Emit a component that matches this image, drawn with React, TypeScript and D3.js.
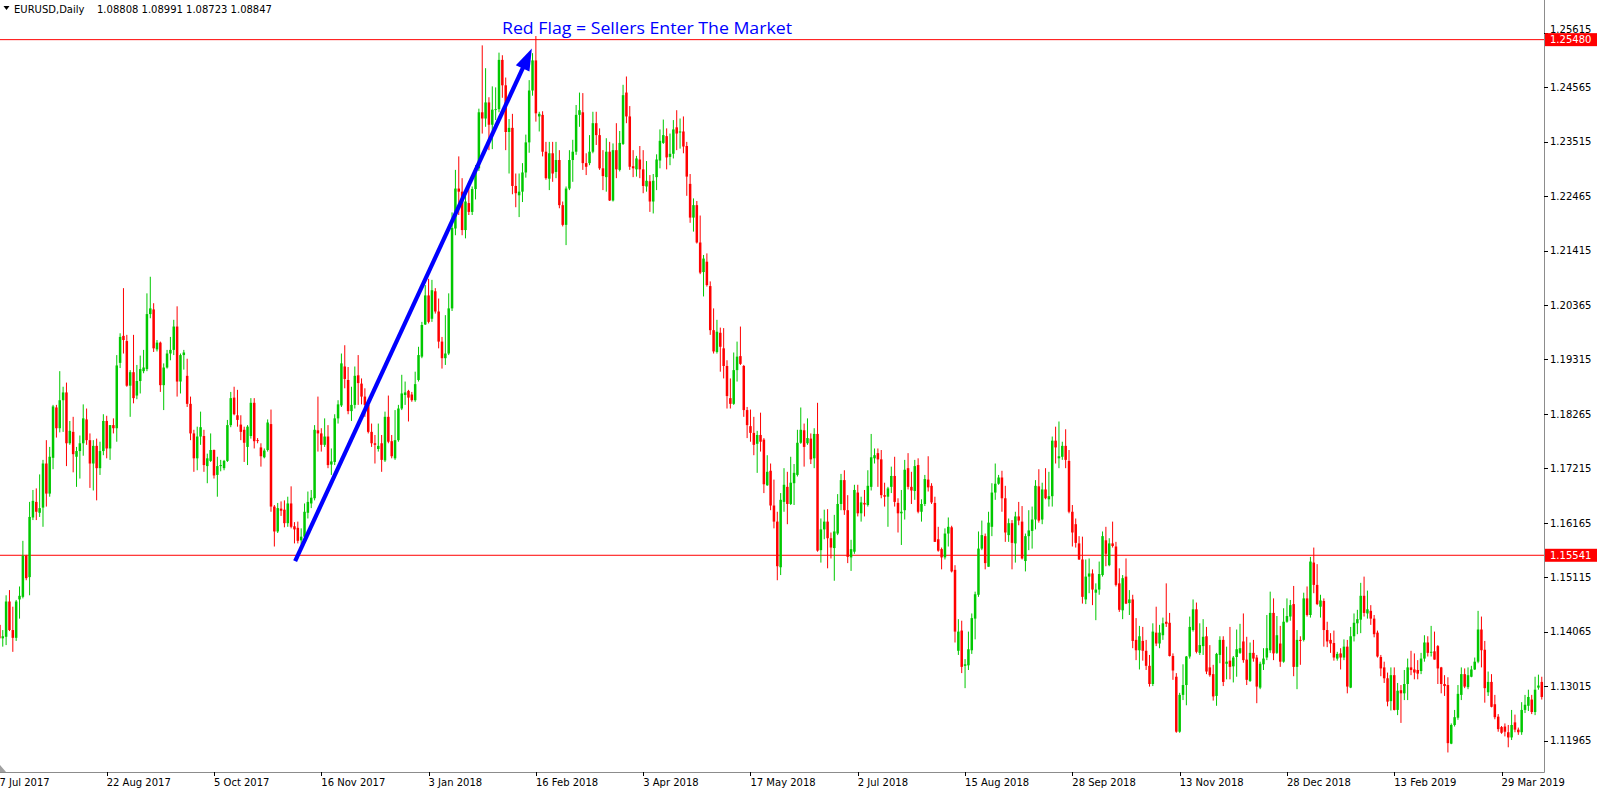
import React from "react";
import * as d3 from "d3";

// ---------- data (prices in 1e-4 units, i.e. pips) ----------
const PIP = 1e-4;

const opens = [
11420,11394,11397,11465,11410,11395,11469,11474,11553,11512,
11627,11657,11636,11646,11731,11673,11742,11839,11799,11853,
11868,11770,11792,11744,11755,11770,11816,11776,11731,11765,
11722,11755,11813,11760,11805,11799,11925,11977,11967,11881,
11907,11862,11890,11909,11913,12019,12028,11951,11964,11882,
11916,11943,11950,11995,11889,11940,11900,11846,11789,11741,
11783,11784,11726,11736,11757,11709,11726,11722,11736,11805,
11858,11824,11806,11796,11763,11784,11848,11776,11762,11743,
11757,11807,11648,11600,11644,11642,11616,11654,11610,11607,
11583,11590,11636,11654,11664,11795,11789,11767,11783,11729,
11734,11818,11843,11918,11892,11832,11844,11901,11885,11860,
11844,11792,11770,11759,11770,11737,11821,11774,11741,11776,
11837,11863,11871,11864,11853,11892,11937,11999,12055,12010,
12063,12024,11966,11934,11943,12030,12184,12261,12255,12181,
12233,12216,12260,12300,12408,12396,12427,12384,12413,12414,
12509,12460,12370,12378,12266,12248,12255,12292,12350,12450,
12508,12400,12403,12332,12280,12329,12293,12316,12229,12191,
12261,12316,12332,12403,12408,12310,12310,12332,12387,12364,
12300,12283,12332,12238,12335,12297,12347,12446,12400,12304,
12298,12317,12298,12265,12275,12236,12283,12315,12349,12362,
12322,12328,12379,12369,12371,12343,12270,12205,12229,12157,
12100,12120,12073,11988,11946,11983,11953,11919,11857,11846,
11911,11938,11919,11834,11803,11790,11769,11786,11777,11689,
11717,11650,11619,11531,11657,11686,11653,11693,11709,11771,
11795,11770,11779,11741,11788,11564,11604,11619,11587,11568,
11596,11653,11699,11641,11550,11561,11675,11635,11655,11651,
11686,11741,11751,11739,11670,11667,11686,11707,11655,11635,
11641,11722,11686,11678,11728,11638,11653,11700,11688,11655,
11585,11566,11550,11596,11608,11526,11370,11409,11341,11342,
11371,11432,11478,11567,11591,11532,11609,11675,11692,11704,
11664,11593,11616,11577,11629,11619,11543,11591,11601,11623,
11687,11623,11681,11662,11668,11775,11741,11744,11765,11736,
11638,11614,11577,11546,11469,11513,11519,11482,11488,11516,
11583,11535,11577,11571,11500,11448,11513,11462,11469,11391,
11371,11389,11370,11341,11306,11405,11384,11400,11426,11424,
11360,11320,11214,11285,11304,11359,11410,11450,11366,11379,
11398,11338,11325,11283,11362,11391,11345,11351,11340,11358,
11366,11388,11353,11312,11366,11357,11299,11344,11357,11371,
11443,11366,11384,11349,11426,11436,11460,11339,11391,11391,
11471,11439,11540,11497,11455,11466,11410,11391,11385,11355,
11365,11357,11378,11299,11398,11423,11430,11476,11442,11447,
11432,11405,11358,11338,11317,11273,11323,11256,11294,11288,
11306,11338,11334,11333,11331,11355,11386,11367,11369,11379,
11338,11306,11304,11191,11227,11241,11285,11325,11300,11320,
11334,11349,11411,11372,11290,11310,11267,11243,11223,11224,
11213,11203,11232,11218,11213,11256,11264,11276,11252,11299,
11310];

const highs = [
11426,11410,11477,11487,11455,11468,11494,11582,11555,11657,
11680,11683,11710,11738,11776,11763,11844,11844,11909,11879,
11887,11813,11821,11763,11785,11845,11837,11789,11776,11779,
11773,11826,11823,11805,11818,11940,11982,12069,11979,11911,
11979,11921,11939,11950,12059,12091,12040,11969,11966,11924,
11950,11975,12008,12034,11943,11950,11933,11860,11796,11802,
11831,11796,11750,11789,11758,11744,11738,11738,11815,11869,
11879,11873,11824,11802,11805,11857,11857,11780,11770,11760,
11816,11835,11651,11655,11658,11660,11667,11687,11618,11619,
11606,11654,11677,11680,11805,11860,11799,11818,11805,11760,
11826,11853,11943,11959,11917,11879,11918,11940,11895,11876,
11847,11808,11786,11808,11786,11831,11862,11786,11834,11844,
11902,11889,11873,11869,11908,11956,12004,12075,12087,12085,
12069,12049,11975,12017,12059,12215,12297,12323,12281,12261,
12274,12265,12306,12415,12537,12493,12437,12458,12456,12523,
12518,12475,12395,12405,12290,12290,12310,12365,12470,12522,
12555,12409,12410,12351,12351,12351,12351,12335,12236,12265,
12335,12355,12422,12446,12445,12329,12364,12409,12409,12377,
12335,12358,12351,12348,12387,12372,12461,12477,12420,12335,
12324,12343,12335,12314,12287,12289,12327,12375,12394,12377,
12367,12393,12412,12396,12400,12351,12289,12242,12237,12209,
12133,12136,12082,12030,12008,11993,11992,11930,11895,11945,
11966,11995,11921,11840,11835,11821,11794,11829,11780,11747,
11731,11700,11638,11674,11722,11715,11744,11730,11796,11839,
11808,11818,11789,11799,11848,11625,11642,11643,11598,11632,
11672,11711,11718,11670,11584,11690,11690,11667,11680,11718,
11788,11760,11760,11757,11694,11686,11725,11744,11664,11680,
11738,11751,11715,11738,11741,11662,11709,11745,11693,11667,
11609,11569,11606,11627,11611,11535,11431,11428,11354,11407,
11442,11484,11600,11621,11596,11638,11693,11731,11709,11717,
11688,11625,11622,11638,11657,11649,11596,11641,11648,11699,
11720,11694,11722,11715,11783,11802,11812,11773,11797,11757,
11651,11625,11591,11590,11546,11548,11527,11500,11542,11600,
11609,11587,11619,11580,11529,11516,11548,11487,11478,11433,
11418,11416,11391,11362,11423,11455,11420,11434,11500,11443,
11365,11327,11289,11344,11360,11436,11469,11463,11423,11431,
11416,11381,11343,11366,11398,11398,11378,11416,11360,11411,
11422,11442,11397,11386,11391,11362,11349,11375,11439,11484,
11471,11437,11418,11452,11471,11468,11495,11410,11398,11482,
11494,11551,11569,11537,11478,11471,11426,11404,11409,11368,
11375,11392,11391,11416,11442,11449,11501,11513,11486,11458,
11439,11409,11362,11349,11328,11338,11338,11308,11304,11333,
11355,11370,11365,11352,11366,11400,11398,11418,11407,11381,
11339,11323,11319,11230,11256,11304,11338,11336,11338,11341,
11357,11447,11436,11389,11330,11325,11285,11248,11225,11230,
11227,11256,11247,11222,11271,11285,11295,11285,11320,11324,
11320];

const lows = [
11391,11378,11381,11408,11368,11389,11432,11471,11506,11477,
11622,11622,11628,11609,11648,11667,11720,11781,11791,11792,
11726,11767,11714,11686,11702,11746,11767,11684,11679,11660,
11709,11747,11741,11738,11789,11773,11915,11943,11879,11821,
11847,11855,11866,11905,11909,12011,11946,11947,11869,11834,
11914,11930,11940,11860,11866,11912,11840,11776,11715,11718,
11767,11715,11693,11734,11702,11667,11716,11718,11734,11801,
11824,11802,11776,11734,11728,11779,11760,11770,11725,11741,
11754,11638,11571,11597,11630,11608,11609,11606,11577,11577,
11575,11584,11625,11645,11660,11754,11754,11763,11722,11709,
11728,11808,11840,11876,11826,11813,11837,11844,11845,11821,
11789,11763,11731,11754,11715,11734,11770,11741,11738,11773,
11834,11844,11812,11850,11850,11889,11934,11998,12001,12004,
12020,11953,11914,11921,11940,12025,12171,12210,12171,12165,
12210,12210,12240,12295,12367,12380,12335,12337,12393,12408,
12436,12335,12290,12250,12225,12206,12235,12282,12330,12440,
12390,12371,12323,12278,12258,12274,12281,12223,12188,12152,
12258,12274,12326,12380,12297,12287,12306,12329,12345,12297,
12258,12255,12237,12236,12281,12294,12345,12387,12297,12283,
12284,12281,12252,12255,12216,12213,12258,12300,12347,12298,
12306,12319,12335,12338,12329,12247,12195,12178,12155,12096,
12053,12072,11979,11943,11943,11908,11895,11837,11837,11844,
11889,11921,11821,11780,11773,11747,11713,11754,11674,11688,
11641,11606,11506,11516,11638,11614,11651,11651,11706,11769,
11725,11767,11730,11722,11561,11540,11585,11529,11548,11505,
11593,11641,11632,11539,11524,11557,11629,11619,11629,11648,
11679,11731,11686,11664,11648,11609,11674,11648,11598,11574,
11623,11681,11653,11661,11635,11619,11649,11677,11653,11580,
11561,11527,11546,11571,11521,11386,11362,11327,11298,11333,
11364,11392,11474,11564,11527,11532,11591,11661,11690,11638,
11580,11580,11527,11540,11612,11546,11523,11564,11567,11604,
11617,11614,11662,11648,11648,11731,11722,11738,11722,11635,
11571,11569,11545,11461,11460,11481,11458,11429,11478,11513,
11533,11533,11569,11494,11445,11431,11460,11439,11375,11352,
11334,11351,11333,11301,11302,11379,11375,11391,11416,11359,
11314,11212,11212,11275,11265,11355,11407,11365,11362,11362,
11325,11320,11274,11264,11346,11302,11315,11315,11309,11320,
11364,11347,11304,11310,11349,11269,11296,11333,11352,11366,
11352,11364,11339,11347,11424,11428,11321,11296,11343,11388,
11436,11434,11481,11458,11434,11378,11377,11366,11351,11351,
11334,11352,11288,11298,11388,11402,11404,11436,11432,11420,
11396,11357,11321,11308,11263,11255,11255,11246,11231,11275,
11275,11323,11315,11315,11325,11349,11359,11359,11353,11306,
11288,11283,11174,11190,11224,11237,11275,11298,11296,11319,
11333,11346,11338,11270,11283,11261,11238,11214,11210,11205,
11184,11198,11213,11208,11208,11250,11254,11248,11246,11295,
11276];

const closes = [
11394,11398,11465,11410,11395,11465,11476,11553,11510,11628,
11659,11638,11645,11731,11673,11744,11841,11799,11853,11868,
11770,11794,11749,11755,11770,11818,11776,11731,11765,11722,
11755,11813,11760,11805,11799,11920,11975,11969,11881,11907,
11857,11890,11913,11916,12019,12030,11953,11964,11882,11916,
11943,11950,11995,11889,11940,11945,11846,11789,11741,11783,
11801,11728,11741,11757,11708,11726,11728,11736,11805,11857,
11826,11815,11792,11771,11802,11848,11774,11775,11745,11756,
11810,11648,11600,11645,11640,11616,11654,11609,11604,11582,
11590,11638,11657,11665,11796,11789,11767,11783,11728,11735,
11818,11845,11924,11894,11832,11844,11900,11886,11860,11844,
11792,11770,11767,11765,11738,11821,11773,11745,11776,11837,
11866,11868,11858,11853,11884,11940,11998,12055,12004,12065,
12024,11966,11934,11943,12030,12185,12261,12255,12181,12236,
12216,12260,12300,12408,12396,12427,12384,12413,12414,12509,
12460,12370,12378,12266,12252,12255,12292,12350,12450,12508,
12406,12405,12332,12281,12329,12290,12316,12229,12191,12261,
12316,12332,12403,12412,12310,12303,12332,12387,12364,12300,
12285,12332,12238,12335,12298,12349,12441,12400,12303,12300,
12319,12298,12266,12276,12236,12276,12317,12353,12364,12321,
12328,12375,12367,12371,12342,12284,12205,12229,12157,12099,
12126,12075,11988,11947,11985,11956,11919,11861,11846,11911,
11937,11923,11834,11805,11790,11767,11786,11773,11691,11715,
11650,11619,11533,11661,11690,11653,11694,11713,11771,11796,
11763,11780,11739,11788,11563,11604,11619,11587,11569,11600,
11653,11699,11641,11551,11566,11680,11635,11656,11652,11688,
11743,11747,11739,11670,11667,11683,11707,11657,11635,11638,
11719,11686,11679,11726,11638,11653,11701,11685,11656,11580,
11563,11550,11596,11609,11523,11407,11407,11339,11344,11373,
11433,11479,11567,11593,11539,11617,11675,11692,11704,11664,
11598,11616,11578,11629,11621,11548,11591,11602,11623,11688,
11621,11681,11664,11668,11775,11762,11745,11765,11738,11638,
11598,11578,11546,11474,11513,11519,11488,11488,11518,11591,
11557,11577,11572,11497,11449,11510,11461,11469,11389,11371,
11398,11370,11341,11306,11407,11384,11405,11423,11422,11360,
11332,11214,11285,11304,11359,11416,11450,11368,11381,11397,
11330,11323,11282,11364,11391,11310,11349,11339,11357,11373,
11375,11352,11314,11366,11355,11301,11345,11355,11375,11443,
11365,11400,11349,11426,11437,11458,11339,11391,11389,11471,
11439,11542,11497,11460,11467,11410,11388,11384,11357,11364,
11357,11378,11301,11398,11424,11431,11476,11443,11450,11432,
11402,11359,11336,11317,11272,11323,11256,11293,11288,11306,
11338,11333,11328,11326,11355,11386,11366,11368,11353,11336,
11306,11302,11192,11227,11242,11287,11325,11301,11323,11334,
11349,11411,11371,11298,11310,11262,11242,11219,11212,11214,
11203,11227,11218,11213,11256,11266,11281,11252,11295,11303,
11281];

const dateLabels = [
  "7 Jul 2017", "22 Aug 2017", "5 Oct 2017", "16 Nov 2017", "3 Jan 2018",
  "16 Feb 2018", "3 Apr 2018", "17 May 2018", "2 Jul 2018", "15 Aug 2018",
  "28 Sep 2018", "13 Nov 2018", "28 Dec 2018", "13 Feb 2019", "29 Mar 2019",
];
const barsPerLabel = 32;

const priceTicks = [
  1.25615, 1.24565, 1.23515, 1.22465, 1.21415, 1.20365, 1.19315,
  1.18265, 1.17215, 1.16165, 1.15115, 1.14065, 1.13015, 1.11965,
];
const levelLines = [1.2548, 1.15541];

const symbolText = "EURUSD,Daily";
const quoteText = "1.08808 1.08991 1.08723 1.08847";
const titleText = "Red Flag = Sellers Enter The Market";

// arrow annotation anchored in (bar index, price)
const arrowStart = { bar: 88.2, price: 1.1543 };
const arrowEnd = { bar: 158.8, price: 1.2531 };

// ---------- layout ----------
const W = 1600;
const H = 790;
const PLOT_RIGHT = 1544;
const PLOT_BOTTOM = 772;
const BAR_STEP = 3.353;
const GREEN = "#00c800";
const RED = "#ff0000";
const FONT = "'DejaVu Sans', Verdana, sans-serif";
const BOX_H = 13;

export default function App() {
  const n = opens.length;
  const x = d3
    .scaleLinear()
    .domain([0, n - 1])
    .range([-0.6, -0.6 + (n - 1) * BAR_STEP]);
  const y = d3
    .scaleLinear()
    .domain([priceTicks[priceTicks.length - 1], priceTicks[0]])
    .range([740.8, 32.65]);

  const candles = d3.range(n).map((i) => {
    const o = opens[i] * PIP;
    const c = closes[i] * PIP;
    const hi = Math.max(highs[i] * PIP, o, c);
    const lo = Math.min(lows[i] * PIP, o, c);
    const up = c >= o;
    const col = up ? GREEN : RED;
    const cx = x(i);
    const yTop = y(Math.max(o, c));
    const yBot = y(Math.min(o, c));
    return (
      <g key={i}>
        <rect x={cx - 0.5} y={y(hi)} width={1} height={Math.max(y(lo) - y(hi), 0.5)} fill={col} />
        <rect x={cx - 1.25} y={yTop} width={2.5} height={Math.max(yBot - yTop, 0.9)} fill={col} />
      </g>
    );
  });

  // arrow geometry
  const ax0 = x(arrowStart.bar);
  const ay0 = y(arrowStart.price);
  const ax1 = x(arrowEnd.bar);
  const ay1 = y(arrowEnd.price);
  const dx = ax1 - ax0;
  const dy = ay1 - ay0;
  const len = Math.hypot(dx, dy);
  const ux = dx / len;
  const uy = dy / len;
  const headLen = 22;
  const headHalf = 7.5;
  const bx = ax1 - ux * headLen;
  const by = ay1 - uy * headLen;
  const px = -uy;
  const py = ux;
  const headPts = [
    [ax1, ay1],
    [bx + px * headHalf, by + py * headHalf],
    [bx - px * headHalf, by - py * headHalf],
  ]
    .map((p) => p.join(","))
    .join(" ");

  // tick label baseline: keep clear of the level-price boxes
  const tickBaseline = (t: number) => {
    const base = y(t) + 3.6;
    for (const v of levelLines) {
      const top = y(v) - BOX_H / 2;
      const bot = y(v) + BOX_H / 2;
      if (base > top && base - 8 < bot && y(t) < y(v)) return top - 0.3;
    }
    return base;
  };

  return (
    <svg
      width={W}
      height={H}
      style={{ position: "absolute", left: 0, top: 0, display: "block", background: "#ffffff" }}
    >
      <defs>
        <clipPath id="plotClip">
          <rect x={0} y={0} width={PLOT_RIGHT} height={PLOT_BOTTOM} />
        </clipPath>
      </defs>
      <rect x={0} y={0} width={W} height={H} fill="#ffffff" />

      {/* header */}
      <path d="M3.5,6 L9.5,6 L6.5,10 Z" fill="#000" />
      <text x={14} y={13} fontFamily={FONT} fontSize={10} fill="#000">
        {symbolText}
      </text>
      <text x={97} y={13} fontFamily={FONT} fontSize={10} fill="#000">
        {quoteText}
      </text>

      <g clipPath="url(#plotClip)">
        {levelLines.map((v) => (
          <line key={v} x1={0} x2={PLOT_RIGHT} y1={y(v)} y2={y(v)} stroke={RED} strokeWidth={1} />
        ))}
        {candles}
        <line x1={ax0} y1={ay0} x2={bx + ux * 2} y2={by + uy * 2} stroke="#0000ff" strokeWidth={4.2} />
        <polygon points={headPts} fill="#0000ff" />
      </g>

      {/* title */}
      <text
        x={502}
        y={34}
        fontFamily="'Open Sans', 'Noto Sans', sans-serif"
        fontSize={16}
        fill="#0000ff"
        textLength={290}
        lengthAdjust="spacingAndGlyphs"
      >
        {titleText}
      </text>

      {/* axes frame */}
      <line x1={PLOT_RIGHT + 0.5} x2={PLOT_RIGHT + 0.5} y1={0} y2={PLOT_BOTTOM + 0.5} stroke="#8c8c8c" strokeWidth={1} />
      <line x1={0} x2={PLOT_RIGHT + 0.5} y1={PLOT_BOTTOM + 0.5} y2={PLOT_BOTTOM + 0.5} stroke="#8c8c8c" strokeWidth={1} />
      <path d={`M0,${PLOT_BOTTOM - 7} L0,${PLOT_BOTTOM} L6,${PLOT_BOTTOM} Z`} fill="#a0a0a0" />

      {/* price axis */}
      {priceTicks.map((t) => (
        <g key={t}>
          <line x1={PLOT_RIGHT} x2={PLOT_RIGHT + 4} y1={Math.round(y(t)) + 0.5} y2={Math.round(y(t)) + 0.5} stroke="#000" strokeWidth={1} />
          <text x={1550} y={tickBaseline(t)} fontFamily={FONT} fontSize={10} fill="#000">
            {t.toFixed(5)}
          </text>
        </g>
      ))}
      {levelLines.map((v) => (
        <g key={"lbl" + v}>
          <rect x={PLOT_RIGHT + 1} y={y(v) - BOX_H / 2} width={52} height={BOX_H} fill={RED} />
          <text x={1550} y={y(v) + 3.6} fontFamily={FONT} fontSize={10} fill="#ffffff">
            {v.toFixed(5)}
          </text>
        </g>
      ))}

      {/* time axis */}
      {dateLabels.map((lab, k) => {
        const xx = x(k * barsPerLabel);
        return (
          <g key={lab}>
            <line x1={Math.round(xx) + 0.5} x2={Math.round(xx) + 0.5} y1={PLOT_BOTTOM} y2={PLOT_BOTTOM + 4} stroke="#000" strokeWidth={1} />
            <text x={xx} y={786} fontFamily={FONT} fontSize={10} fill="#000">
              {lab}
            </text>
          </g>
        );
      })}
    </svg>
  );
}
